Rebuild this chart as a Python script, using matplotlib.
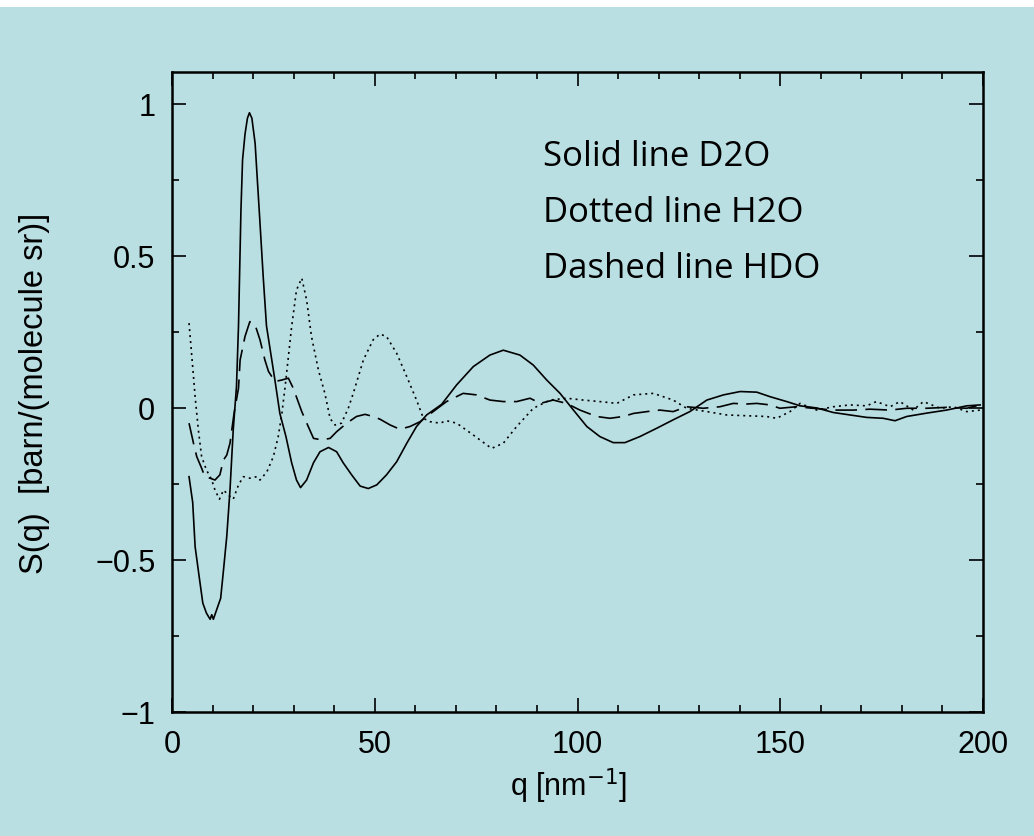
import numpy as np
import matplotlib
matplotlib.use("Agg")
import matplotlib.pyplot as plt
from matplotlib.patches import Rectangle
from matplotlib.ticker import MultipleLocator

# D2O - solid line
d2o_q = [4.2, 5.1, 5.7, 6.7, 7.6, 8.5, 9.4, 9.8, 10.2, 11.0, 12.0, 12.7, 13.5, 14.3,
         15.1, 15.9, 16.4, 17.0, 17.4, 18.0, 18.6, 19.1, 19.7, 20.5, 21.0, 21.6, 22.5,
         23.3, 25.4, 26.6, 28.1, 29.5, 30.7, 31.7, 33.2,
         34.9, 36.5, 38.6, 40.6, 42.2, 44.3, 46.4, 48.4, 50.5, 52.9, 55.4, 57.9, 60.3,
         62.8, 66.5, 70.2, 74.3, 78.4, 81.7, 85.8, 89.1, 92.4, 95.7, 99.0, 102.3, 105.5,
         108.8, 111.7, 115.4, 119.5, 123.6, 127.7, 131.9, 136.0, 140.1, 144.2, 147.5,
         151.6, 154.9, 159.0, 163.1, 167.2, 171.3, 175.4, 178.3, 181.2, 186.1, 191.0,
         196.0, 199.3]
d2o_s = [-0.226, -0.31, -0.456, -0.555, -0.642, -0.675, -0.695, -0.68, -0.695, -0.664,
         -0.626, -0.533, -0.423, -0.27, -0.072, 0.07, 0.27, 0.65, 0.816, 0.90, 0.953,
         0.971, 0.953, 0.87, 0.76, 0.63, 0.43, 0.27, 0.09,
         -0.018, -0.094, -0.18, -0.237, -0.262, -0.237, -0.18, -0.144, -0.13, -0.144,
         -0.18, -0.22, -0.257, -0.265, -0.253, -0.22, -0.177, -0.116, -0.061, -0.023,
         0.012, 0.076, 0.136, 0.174, 0.19, 0.174, 0.141, 0.092, 0.048, -0.007, -0.061,
         -0.094, -0.114, -0.114, -0.094, -0.067, -0.039, -0.012, 0.026, 0.043, 0.054,
         0.052, 0.037, 0.021, 0.007, 0.0, -0.015, -0.023, -0.031, -0.034, -0.042,
         -0.028, -0.017, -0.007, 0.007, 0.01]

# H2O - dotted line
h2o_q = [4.2, 5.3, 5.7, 6.5, 7.3, 8.5, 9.8, 10.6, 11.7, 12.7, 13.9, 15.1, 16.4, 17.6,
         19.2, 20.9, 21.7, 23.4, 25.0, 26.2, 27.1, 27.9, 29.5, 30.7, 32.0, 33.2, 34.4,
         36.1, 37.7, 39.0, 40.2, 41.8, 43.5, 44.7, 47.2, 49.6, 51.3, 52.9, 55.4, 57.9,
         60.3, 62.0, 63.6, 66.1, 67.7, 70.2, 74.3, 78.8, 81.7, 85.0, 89.1, 93.2, 97.3,
         101.4, 105.5, 109.7, 113.8, 118.7, 123.6, 126.9, 131.9, 136.8, 142.5, 146.6,
         149.1, 152.4, 154.9, 159.0, 163.1, 167.2, 171.3, 173.7, 177.1, 179.5, 182.8,
         185.3, 189.4, 192.7, 196.0, 199.3]
h2o_s = [0.279, 0.103, 0.037, -0.072, -0.16, -0.204, -0.237, -0.27, -0.30, -0.27,
         -0.286, -0.30, -0.253, -0.226, -0.231, -0.226, -0.237, -0.21, -0.16, -0.094,
         -0.018, 0.07, 0.267, 0.388, 0.427, 0.355, 0.235, 0.125, 0.048, -0.035, -0.056,
         -0.05, 0.0, 0.048, 0.158, 0.224, 0.243, 0.235, 0.18, 0.103, 0.026, -0.034,
         -0.045, -0.05, -0.042, -0.05, -0.089, -0.133, -0.116, -0.061, -0.001, 0.026,
         0.032, 0.026, 0.021, 0.015, 0.043, 0.048, 0.026, -0.001, -0.012, -0.023,
         -0.026, -0.028, -0.034, -0.012, 0.015, -0.007, 0.004, 0.01, 0.007, 0.021,
         0.004, 0.021, -0.007, 0.021, -0.001, 0.004, -0.012, -0.007]

# HDO - dashed line
hdo_q = [4.2, 5.3, 6.1, 7.3, 8.1, 9.4, 10.6, 11.8, 12.7, 13.5, 14.3, 15.3, 16.4, 16.8,
         18.0, 19.2, 20.5, 21.7, 22.9, 23.8, 25.4, 27.1, 28.7, 29.9, 32.0, 33.6, 34.9,
         36.9, 39.0, 40.6, 43.1, 45.5, 47.6, 49.6, 51.3, 53.8, 56.2, 58.7, 61.2, 64.4,
         67.7, 71.8, 75.1, 78.4, 81.7, 85.0, 88.3, 90.8, 94.0, 97.3, 100.6, 104.7,
         108.0, 111.3, 113.8, 117.1, 120.3, 123.6, 126.9, 131.0, 135.1, 138.4, 141.7,
         144.2, 147.5, 149.9, 154.0, 158.1, 163.1, 168.0, 172.1, 177.1, 181.2, 186.1,
         191.0, 196.0, 199.3]
hdo_s = [-0.05, -0.116, -0.16, -0.198, -0.226, -0.231, -0.237, -0.22, -0.171, -0.155,
         -0.116, -0.018, 0.065, 0.158, 0.235, 0.284, 0.273, 0.224, 0.158, 0.12, 0.087,
         0.092, 0.098, 0.065, -0.012, -0.061, -0.1, -0.105, -0.1, -0.078, -0.05, -0.028,
         -0.021, -0.028, -0.037, -0.056, -0.07, -0.061, -0.045, -0.012, 0.021, 0.048,
         0.043, 0.026, 0.021, 0.021, 0.032, 0.015, 0.026, 0.015, -0.007, -0.028, -0.034,
         -0.028, -0.018, -0.012, -0.007, -0.012, 0.004, -0.001, 0.004, 0.015, 0.013,
         0.015, 0.01, -0.001, 0.004, -0.001, -0.007, -0.007, -0.004, -0.007, -0.001,
         -0.001, 0.002, -0.001, 0.01]

legend_lines = ["Solid line D2O", "Dotted line H2O", "Dashed line HDO"]

bg = "#badfe3"
plt.rcParams["font.family"] = ["Liberation Sans", "DejaVu Sans"]

fig = plt.figure(figsize=(10.34, 8.37), dpi=100, facecolor=bg)
fig.patches.append(Rectangle((0, 1 - 8 / 837), 1, 8 / 837, transform=fig.transFigure,
                             facecolor="white", edgecolor="none", zorder=0))
ax = fig.add_axes([172 / 1034, 1 - 713 / 837, 811 / 1034, 640 / 837])
ax.set_facecolor(bg)

ax.plot(d2o_q, d2o_s, color="black", lw=1.2, linestyle="-")
ax.plot(h2o_q, h2o_s, color="black", lw=1.2, linestyle=(0, (1.2, 2.4)))
ax.plot(hdo_q, hdo_s, color="black", lw=1.2, linestyle=(0, (13, 5)))

ax.set_xlim(0, 200)
ax.set_ylim(-1, 1.105)
ax.xaxis.set_major_locator(MultipleLocator(50))
ax.xaxis.set_minor_locator(MultipleLocator(10))
ax.yaxis.set_major_locator(MultipleLocator(0.5))
ax.yaxis.set_minor_locator(MultipleLocator(0.25))
ax.set_yticks([-1, -0.5, 0, 0.5, 1])
ax.set_yticklabels(["\u22121", "\u22120.5", "0", "0.5", "1"])

ax.tick_params(which="both", direction="in", top=True, right=True, width=1.2,
               labelsize=22, pad=12)
ax.tick_params(which="major", length=10)
ax.tick_params(which="minor", length=5)
for sp in ax.spines.values():
    sp.set_linewidth(1.8)

ax.set_xlabel("q [nm$^{-1}$]", fontsize=22)
ax.xaxis.set_label_coords(0.489, -0.115, transform=ax.transAxes)
ax.xaxis.label.set_va("center")
ax.set_ylabel("S(q)  [barn/(molecule sr)]", fontsize=23.5)
ax.yaxis.set_label_coords(-0.17, 0.5, transform=ax.transAxes)
ax.yaxis.label.set_va("center")

for i, txt in enumerate(legend_lines):
    ax.text(91.5, 0.83 - i * 0.185, txt, fontsize=25, family=["Open Sans", "DejaVu Sans"],
            va="center", ha="left")

fig.savefig("out.png", dpi=100, facecolor=bg)
